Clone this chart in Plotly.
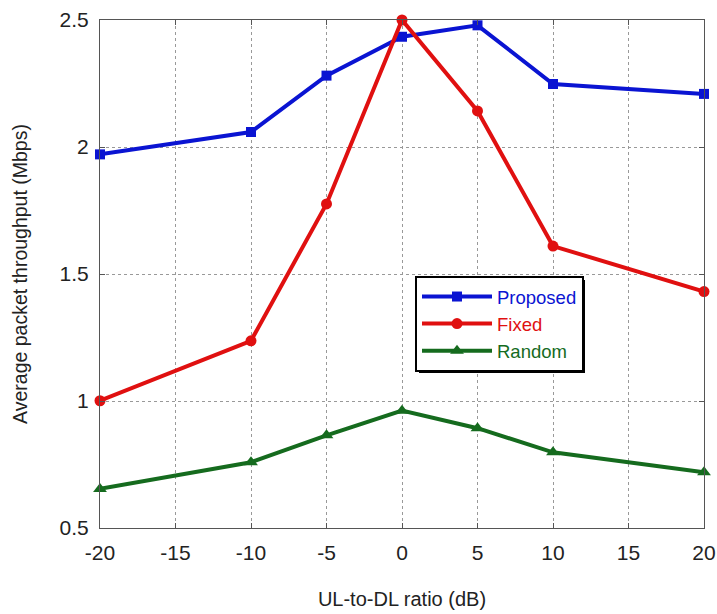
import plotly.graph_objects as go

x_vals = [-20, -10, -5, 0, 5, 10, 20]
proposed = [1.971, 2.059, 2.281, 2.434, 2.479, 2.248, 2.209]
fixed = [1.001, 1.237, 1.776, 2.500, 2.142, 1.610, 1.431]
random_ = [0.654, 0.759, 0.865, 0.962, 0.893, 0.798, 0.719]

x_ticks = [-20, -15, -10, -5, 0, 5, 10, 15, 20]
y_ticks = [0.5, 1, 1.5, 2, 2.5]
y_labels = ["0.5", "1", "1.5", "2", "2.5"]

BLUE = "#0a14d2"
RED = "#e01010"
GREEN = "#156b1e"

fig = go.Figure()
series = [
    ("Proposed", proposed, BLUE, "square", 10),
    ("Fixed", fixed, RED, "circle", 11),
    ("Random", random_, GREEN, "triangle-up", 12),
]
for name, vals, col, sym, sz in series:
    fig.add_trace(go.Scatter(
        x=x_vals, y=vals, mode="lines+markers",
        name=f'<span style="color:{col}">{name}</span>',
        line=dict(color=col, width=4),
        marker=dict(symbol=sym, size=sz, color=col),
        cliponaxis=False,
    ))

L, R, T, B = 100, 13, 20, 86
W, H = 717, 614
pw, ph = W - L - R, H - T - B

# legend box geometry (pixels)
lx0, ly0 = 415, 276
lx1, ly1 = 581, 369
fig.add_shape(type="rect", xref="paper", yref="paper",
              x0=(lx0 + 4 - L) / pw, x1=(lx1 + 4 - L) / pw,
              y0=1 - (ly1 + 4 - T) / ph, y1=1 - (ly0 + 4 - T) / ph,
              fillcolor="black", line=dict(width=0), layer="above")

axis_common = dict(
    showline=True, linecolor="#555555", linewidth=1, mirror="ticks",
    ticks="inside", ticklen=5, tickcolor="#555555",
    showgrid=True, gridcolor="#999999", griddash="dot", gridwidth=1,
    zeroline=False, automargin=False,
    tickfont=dict(size=21, color="#222222"),
    ticklabelstandoff=6,
)

fig.update_layout(
    width=W, height=H,
    margin=dict(l=L, r=R, t=T, b=B),
    paper_bgcolor="white", plot_bgcolor="white",
    font=dict(family="Liberation Sans, Arial, sans-serif"),
    xaxis=dict(range=[-20, 20], tickvals=x_ticks, ticktext=[str(v) for v in x_ticks],
               ticklabeloverflow="allow",
               title=dict(text="UL-to-DL ratio (dB)", standoff=28,
                          font=dict(size=20, color="#222222")), **axis_common),
    yaxis=dict(range=[0.5, 2.5], tickvals=y_ticks, ticktext=y_labels,
               title=dict(text="Average packet throughput (Mbps)", standoff=26,
                          font=dict(size=19.5, color="#222222")), **axis_common),
    legend=dict(
        x=(lx0 - L) / pw, y=1 - (ly0 - T) / ph, xanchor="left", yanchor="top",
        bgcolor="white", bordercolor="black", borderwidth=2,
        font=dict(size=18.5), itemwidth=70, tracegroupgap=0,
    ),
    showlegend=True,
)

fig.write_html("out.html", config={"displayModeBar": False},
               post_script="document.body.style.margin='0';")
